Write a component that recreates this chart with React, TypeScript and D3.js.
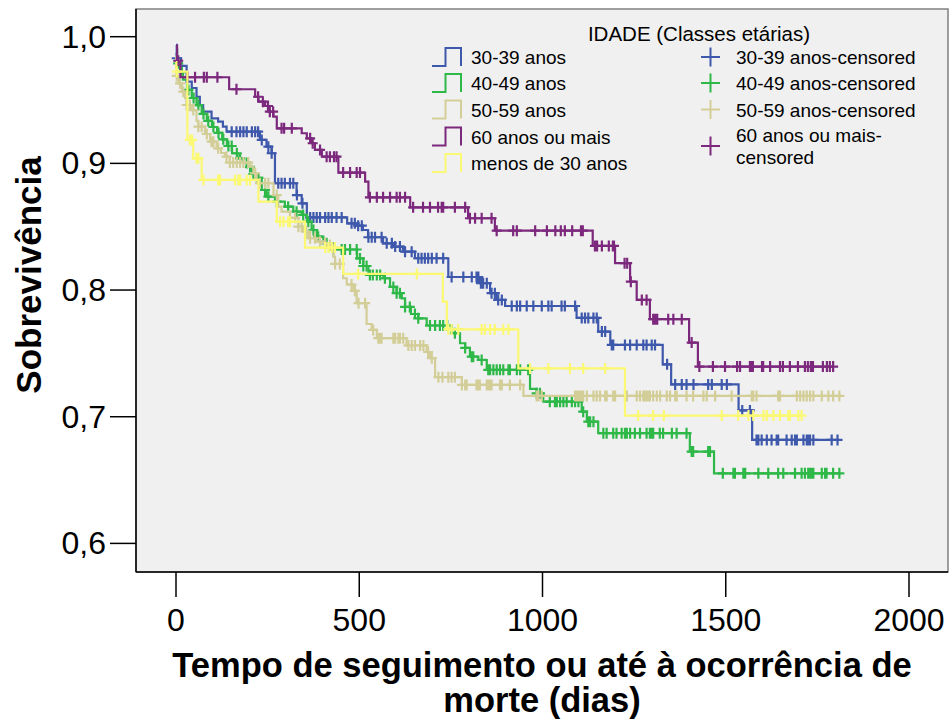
import React from "react";
import * as d3 from "d3";

// Kaplan–Meier survival by age class: [day of event, survival after event]
const groupNames = ["30-39 anos", "40-49 anos", "50-59 anos", "60 anos ou mais", "menos de 30 anos"];
const groupColors = ["#3E58AC", "#2EB848", "#D3CE97", "#7C287D", "#FBF873"];

const steps3039: [number, number][] = [
  [0, 0.9935], [2, 0.983], [14, 0.977], [29, 0.9645], [43, 0.9595], [56, 0.9526], [65, 0.9461],
  [74, 0.9408], [97, 0.9356], [115, 0.9329], [128, 0.929], [138, 0.925], [229, 0.9185], [247, 0.9132],
  [261, 0.908], [270, 0.8843], [329, 0.875], [343, 0.8685], [357, 0.8573], [467, 0.8527], [494, 0.8508],
  [510, 0.8474], [524, 0.8417], [565, 0.8369], [592, 0.8343], [619, 0.8303], [652, 0.8251], [743, 0.8103],
  [829, 0.8054], [857, 0.7975], [875, 0.7922], [898, 0.7874], [1093, 0.778], [1152, 0.7672], [1185, 0.7567],
  [1328, 0.7414], [1351, 0.7255], [1535, 0.705], [1572, 0.6817],
];
const censored3039: number[] = [
  2, 152, 165, 175, 184, 193, 207, 216, 224, 234, 252, 261, 279, 288, 297, 311, 320, 330, 345, 366, 375,
  384, 393, 407, 416, 425, 438, 452, 479, 488, 497, 507, 525, 534, 543, 561, 575, 589, 598, 611, 625, 643,
  661, 670, 679, 688, 698, 711, 729, 752, 784, 807, 820, 825, 832, 838, 848, 861, 870, 879, 889, 916, 930,
  939, 957, 975, 998, 1016, 1025, 1052, 1061, 1089, 1107, 1116, 1125, 1139, 1148, 1162, 1171, 1189, 1193,
  1225, 1239, 1257, 1275, 1284, 1298, 1307, 1340, 1362, 1380, 1393, 1412, 1452, 1462, 1489, 1503, 1545,
  1566, 1584, 1589, 1598, 1612, 1625, 1639, 1643, 1666, 1680, 1689, 1694, 1712, 1721, 1725, 1730, 1739,
  1789, 1805,
];

const steps4049: [number, number][] = [
  [0, 0.99], [3, 0.979], [11, 0.972], [19, 0.966], [30, 0.958], [43, 0.9516], [56, 0.946], [70, 0.939],
  [84, 0.9335], [98, 0.9287], [112, 0.924], [126, 0.919], [139, 0.9137], [153, 0.908], [168, 0.904],
  [183, 0.9003], [196, 0.8972], [207, 0.8916], [220, 0.8885], [234, 0.879], [247, 0.8737], [270, 0.8698],
  [297, 0.8658], [320, 0.8619], [343, 0.8593], [357, 0.854], [370, 0.8474], [384, 0.8421], [402, 0.8369],
  [428, 0.832], [494, 0.825], [511, 0.819], [525, 0.8119], [566, 0.8093], [584, 0.8025], [602, 0.7975],
  [616, 0.7935], [625, 0.7867], [641, 0.7811], [661, 0.7777], [684, 0.772], [752, 0.7659], [775, 0.758],
  [789, 0.7543], [802, 0.7474], [825, 0.7448], [848, 0.737], [966, 0.722], [984, 0.7185], [1002, 0.7119],
  [1107, 0.704], [1121, 0.6961], [1152, 0.687], [1402, 0.6725], [1468, 0.6553],
];
const censored4049: number[] = [
  6, 16, 34, 48, 61, 75, 88, 102, 116, 129, 143, 152, 166, 175, 193, 202, 211, 225, 243, 252, 275, 306,
  329, 347, 361, 375, 388, 411, 429, 452, 461, 475, 493, 502, 511, 520, 529, 537, 548, 557, 570, 593, 602,
  611, 625, 638, 652, 661, 693, 707, 720, 729, 740, 761, 789, 807, 811, 834, 852, 857, 866, 875, 884, 893,
  907, 911, 930, 939, 961, 984, 993, 1020, 1034, 1039, 1048, 1057, 1066, 1080, 1089, 1098, 1111, 1125,
  1130, 1139, 1166, 1175, 1193, 1202, 1216, 1225, 1230, 1239, 1252, 1266, 1284, 1293, 1298, 1302, 1320,
  1329, 1353, 1366, 1393, 1407, 1411, 1452, 1457, 1492, 1521, 1525, 1548, 1553, 1589, 1616, 1643, 1657,
  1689, 1707, 1716, 1725, 1730, 1734, 1739, 1762, 1771, 1775, 1793, 1810,
];

const steps5059: [number, number][] = [
  [0, 0.985], [1, 0.969], [6, 0.9632], [16, 0.9566], [25, 0.9514], [29, 0.9461], [44, 0.9421], [56, 0.9335],
  [61, 0.929], [79, 0.9232], [93, 0.9171], [111, 0.9119], [123, 0.9082], [134, 0.9053], [147, 0.9006],
  [202, 0.8974], [211, 0.8922], [220, 0.8843], [266, 0.875], [279, 0.8658], [288, 0.8619], [311, 0.857],
  [334, 0.85], [347, 0.8461], [361, 0.8409], [384, 0.8382], [407, 0.8369], [420, 0.8356], [429, 0.8264],
  [434, 0.8206], [456, 0.8093], [466, 0.8044], [484, 0.7993], [493, 0.7896], [520, 0.7732], [534, 0.7685],
  [548, 0.762], [629, 0.7563], [684, 0.7511], [693, 0.7462], [707, 0.7312], [780, 0.7251], [948, 0.7164],
];
const censored5059: number[] = [
  2, 11, 20, 29, 38, 47, 61, 70, 84, 97, 102, 115, 138, 147, 156, 166, 175, 184, 197, 216, 229, 243, 252,
  275, 325, 334, 343, 356, 366, 379, 393, 407, 420, 434, 447, 479, 488, 498, 516, 538, 552, 557, 561, 593,
  598, 607, 611, 620, 634, 643, 652, 666, 675, 688, 698, 716, 727, 743, 752, 761, 780, 789, 793, 820, 825,
  829, 848, 852, 857, 861, 884, 889, 911, 939, 984, 989, 998, 1089, 1093, 1098, 1102, 1107, 1111, 1121,
  1139, 1148, 1157, 1171, 1175, 1193, 1198, 1225, 1230, 1257, 1266, 1275, 1280, 1284, 1289, 1293, 1302,
  1312, 1321, 1339, 1348, 1362, 1366, 1393, 1411, 1439, 1448, 1471, 1516, 1571, 1575, 1584, 1643, 1648,
  1694, 1703, 1712, 1721, 1730, 1739, 1762, 1780, 1793, 1810,
];

const steps60: [number, number][] = [
  [0, 0.993], [3, 0.981], [12, 0.968], [145, 0.9585], [216, 0.9526], [225, 0.9487], [243, 0.9453],
  [252, 0.9408], [266, 0.9369], [275, 0.9277], [343, 0.9238], [357, 0.9198], [370, 0.9159], [379, 0.9106],
  [398, 0.9053], [443, 0.8927], [516, 0.8856], [525, 0.8732], [639, 0.8653], [797, 0.8567], [870, 0.8469],
  [1137, 0.8348], [1198, 0.8212], [1239, 0.8066], [1257, 0.7922], [1293, 0.777], [1400, 0.7585],
  [1424, 0.7396],
];
const censored60: number[] = [
  6, 31, 52, 76, 84, 113, 165, 224, 237, 251, 256, 265, 288, 295, 316, 366, 373, 393, 411, 420, 431, 438,
  456, 475, 493, 502, 529, 548, 565, 584, 602, 611, 625, 647, 674, 693, 715, 725, 729, 761, 789, 802, 816,
  834, 861, 875, 920, 930, 980, 1012, 1035, 1050, 1061, 1081, 1105, 1110, 1143, 1149, 1162, 1181, 1192,
  1195, 1224, 1231, 1241, 1271, 1284, 1302, 1307, 1313, 1343, 1357, 1380, 1407, 1428, 1465, 1498, 1531,
  1539, 1566, 1572, 1574, 1599, 1602, 1621, 1648, 1656, 1675, 1697, 1716, 1724, 1732, 1738, 1765, 1776,
  1784, 1793,
];

const stepsUnder30: [number, number][] = [
  [0, 0.98], [1, 0.9724], [31, 0.9185], [47, 0.904], [70, 0.8869], [225, 0.8698], [275, 0.854],
  [352, 0.8335], [456, 0.8127], [728, 0.7908], [739, 0.7689], [934, 0.7381], [1225, 0.7009],
];
const censoredUnder30: number[] = [
  2, 38, 44, 56, 61, 75, 115, 120, 161, 170, 175, 193, 202, 284, 293, 306, 311, 407, 416, 425, 434, 497,
  657, 743, 752, 770, 834, 843, 857, 870, 893, 907, 966, 1016, 1075, 1111, 1171, 1261, 1302, 1331, 1489,
  1534, 1562, 1575, 1603, 1612, 1630, 1648, 1671, 1675, 1698, 1707,
];

const allSteps = [steps3039, steps4049, steps5059, steps60, stepsUnder30];
const allCensored = [censored3039, censored4049, censored5059, censored60, censoredUnder30];

const xTicks = [0, 500, 1000, 1500, 2000];
const yTicks = [0.6, 0.7, 0.8, 0.9, 1.0];

const W = 952;
const H = 724;
const frame = { left: 136, right: 948, top: 9, bottom: 572 };
const FONT = "'Liberation Sans', Arial, Helvetica, sans-serif";

const x = d3.scaleLinear().domain([0, 2000]).range([176, 909]);
const y = d3.scaleLinear().domain([0.6, 1.0]).range([543.4, 36.7]);

const stepLine = d3
  .line<[number, number]>()
  .x((d) => x(d[0]))
  .y((d) => y(d[1]))
  .curve(d3.curveStepAfter);

function survivalAt(steps: [number, number][], t: number): number {
  let v = steps[0][1];
  for (const [time, val] of steps) {
    if (time <= t) v = val;
    else break;
  }
  return v;
}

function plusPath(cx: number, cy: number, hw: number, hh: number): string {
  return `M${cx - hw},${cy}H${cx + hw}M${cx},${cy - hh}V${cy + hh}`;
}

const fmtY = (v: number) => d3.format(".1f")(v).replace(".", ",");

export default function App() {
  const legendRows = [57, 83, 109.5, 136.5, 163];
  return (
    <div style={{ position: "absolute", left: 0, top: 0 }}>
      <svg width={W} height={H} viewBox={`0 0 ${W} ${H}`} style={{ display: "block", background: "#fff" }}>
        <rect
          x={frame.left}
          y={frame.top}
          width={frame.right - frame.left}
          height={frame.bottom - frame.top}
          fill="#F0F0F0"
          stroke="#808080"
          strokeWidth={1.5}
        />

        {allSteps.map((steps, i) => {
          const cens = allCensored[i];
          const end = Math.max(cens[cens.length - 1], steps[steps.length - 1][0]);
          const pts: [number, number][] = [...steps, [end, steps[steps.length - 1][1]]];
          const marks = cens.map((t) => plusPath(x(t), y(survivalAt(steps, t)), 5, 5.5)).join("");
          return (
            <g key={groupNames[i]}>
              <path d={stepLine(pts) || ""} fill="none" stroke={groupColors[i]} strokeWidth={2.2} />
              <path d={marks} fill="none" stroke={groupColors[i]} strokeWidth={2.2} />
            </g>
          );
        })}

        {/* axes */}
        <line x1={frame.left} x2={frame.left} y1={frame.top} y2={frame.bottom} stroke="#000" strokeWidth={1.5} />
        <line x1={frame.left} x2={frame.right} y1={frame.bottom} y2={frame.bottom} stroke="#000" strokeWidth={1.5} />
        {yTicks.map((t) => (
          <g key={`y${t}`}>
            <line x1={110} x2={frame.left} y1={y(t)} y2={y(t)} stroke="#000" strokeWidth={1.5} />
            <text x={106} y={y(t) + 11} textAnchor="end" fontFamily={FONT} fontSize={32} fill="#000">
              {fmtY(t)}
            </text>
          </g>
        ))}
        {xTicks.map((t) => (
          <g key={`x${t}`}>
            <line x1={x(t)} x2={x(t)} y1={frame.bottom} y2={597} stroke="#000" strokeWidth={1.5} />
            <text x={x(t)} y={631} textAnchor="middle" fontFamily={FONT} fontSize={32} fill="#000">
              {t}
            </text>
          </g>
        ))}

        <text
          transform="translate(41,275) rotate(-90)"
          textAnchor="middle"
          fontFamily={FONT}
          fontSize={35}
          fontWeight="bold"
          fill="#000"
        >
          Sobrevivência
        </text>
        <text x={542} y={677} textAnchor="middle" fontFamily={FONT} fontSize={34.5} fontWeight="bold" fill="#000">
          Tempo de seguimento ou até à ocorrência de
        </text>
        <text x={542} y={712} textAnchor="middle" fontFamily={FONT} fontSize={34.5} fontWeight="bold" fill="#000">
          morte (dias)
        </text>

        {/* legend */}
        <text x={699} y={41} textAnchor="middle" fontFamily={FONT} fontSize={20.5} fill="#000">
          IDADE (Classes etárias)
        </text>
        {groupNames.map((name, i) => {
          const cy = legendRows[i];
          return (
            <g key={`leg${name}`}>
              <path
                d={`M432,${cy + 9}H445.5V${cy - 9}H461V${cy + 9}`}
                fill="none"
                stroke={groupColors[i]}
                strokeWidth={2}
              />
              <text x={471} y={cy + 7} fontFamily={FONT} fontSize={19} fill="#000">
                {name}
              </text>
            </g>
          );
        })}
        {groupNames.slice(0, 3).map((name, i) => {
          const cy = legendRows[i];
          return (
            <g key={`legc${name}`}>
              <path d={plusPath(710.5, cy, 9.5, 9.5)} fill="none" stroke={groupColors[i]} strokeWidth={2} />
              <text x={736} y={cy + 7} fontFamily={FONT} fontSize={19} fill="#000">
                {`${name}-censored`}
              </text>
            </g>
          );
        })}
        <path d={plusPath(710.5, 146, 9.5, 9.5)} fill="none" stroke={groupColors[3]} strokeWidth={2} />
        <text x={736} y={142} fontFamily={FONT} fontSize={19} fill="#000">
          {`${groupNames[3]}-`}
        </text>
        <text x={736} y={163.5} fontFamily={FONT} fontSize={19} fill="#000">
          censored
        </text>
      </svg>
    </div>
  );
}
